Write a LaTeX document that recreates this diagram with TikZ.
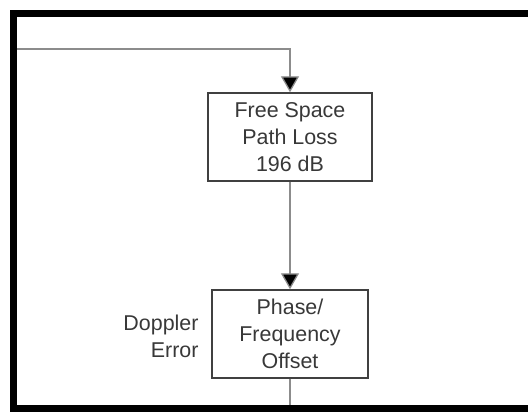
\documentclass[tikz,border=0pt]{standalone}
\usepackage{fontspec}
\setmainfont{Liberation Sans}
\usetikzlibrary{arrows.meta,positioning}

\begin{document}
\begin{tikzpicture}[x=1bp,y=-1bp,
      block/.style={draw=black!75, line width=1.4bp, fill=white,
             minimum width=164bp, minimum height=88bp,
             align=center, text=black!78,
             font=\fontsize{21.5}{27}\selectfont},
      link/.style={draw=black!45, line width=1.3bp,
             -{Triangle[length=16bp,width=18bp,fill=black]}},
      frame/.style={line width=7bp, line cap=rect},
      ]
      \useasboundingbox (0,0) rectangle (528,412);
      % blocks
      \node[block] (fspl) at (290,137) {Free Space\\Path Loss\\196 dB};
      \node[block, minimum width=156bp] (offset) at (290,334) {Phase/\\Frequency\\Offset};
      \node[anchor=east, align=right, text=black!78,
            font=\fontsize{21.5}{27}\selectfont] (doppler) at (202,336) {Doppler\\Error};
      % connectors
      \coordinate (feed) at (17,49);
      \coordinate (out) at (290,412);
      \draw[link] (feed) -| (fspl.north);
      \draw[link] (fspl.south) -- (offset.north);
      \draw[draw=black!45, line width=1.3bp] (offset.south) -- (out);
      % frame
      \draw[frame] (540,13.5) -- (13.5,13.5) -- (13.5,408) -- (540,408);
    \end{tikzpicture}
\end{document}
